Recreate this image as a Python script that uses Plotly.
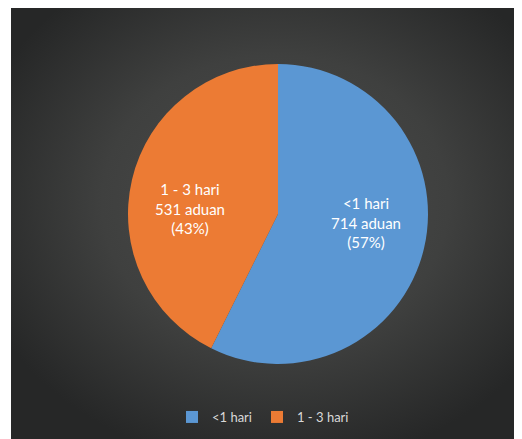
import base64
import math
import plotly.graph_objects as go

categories = ["<1 hari", "1 - 3 hari"]
values = [714, 531]
colors = ["#5b97d3", "#ec7b34"]

W, H = 522, 439

svg = (
    '<svg xmlns="http://www.w3.org/2000/svg" width="508" height="431" viewBox="0 0 508 431" preserveAspectRatio="none">'
    '<defs><radialGradient id="g" cx="0.52" cy="0.45" r="0.62" fx="0.52" fy="0.45">'
    '<stop offset="0" stop-color="#4c4d4c"/>'
    '<stop offset="0.55" stop-color="#3f403f"/>'
    '<stop offset="1" stop-color="#262727"/>'
    '</radialGradient></defs>'
    '<rect width="508" height="431" fill="url(#g)"/></svg>'
)
bg_src = "data:image/svg+xml;base64," + base64.b64encode(svg.encode()).decode()

# figure-space geometry (page is offset by 8px body margin)
cx, cy, r = 270, 206, 150

fig = go.Figure(
    go.Pie(
        labels=categories,
        values=values,
        sort=False,
        direction="clockwise",
        rotation=0,
        marker=dict(colors=colors, line=dict(width=0)),
        textinfo="none",
        hoverinfo="label+value+percent",
        domain=dict(
            x=[(cx - r) / W, (cx + r) / W],
            y=[1 - (cy + r) / H, 1 - (cy - r) / H],
        ),
    )
)

# data labels placed from each slice's mid-angle
total = sum(values)
annotations = []
start = 0.0
for lab, v in zip(categories, values):
    frac = v / total
    mid = (start + frac / 2) * 2 * math.pi
    start += frac
    lx = cx + 0.6 * r * math.sin(mid)
    ly = cy + 1.5 - 0.19 * r * math.cos(mid)
    annotations.append(
        dict(
            x=lx / W,
            y=1 - ly / H,
            xref="paper",
            yref="paper",
            xanchor="center",
            yanchor="middle",
            text=f"{lab}<br>{v} aduan<br>({round(frac * 100)}%)",
            showarrow=False,
            align="center",
            font=dict(family="Lato, 'Open Sans', sans-serif", size=15, color="#ffffff"),
        )
    )

fig.update_layout(
    width=W,
    height=H,
    margin=dict(l=0, r=0, t=0, b=0),
    paper_bgcolor="#ffffff",
    plot_bgcolor="rgba(0,0,0,0)",
    showlegend=True,
    annotations=annotations,
    legend=dict(
        orientation="h",
        x=255 / W,
        xanchor="center",
        y=1 - 409 / H,
        yanchor="middle",
        font=dict(family="Lato, 'Open Sans', sans-serif", size=13, color="#d9d9d9"),
        bgcolor="rgba(0,0,0,0)",
        itemwidth=30,
    ),
    images=[
        dict(
            source=bg_src,
            xref="paper",
            yref="paper",
            x=3 / W,
            y=1,
            sizex=508 / W,
            sizey=431 / H,
            xanchor="left",
            yanchor="top",
            sizing="stretch",
            layer="below",
        )
    ],
)

fig.write_html("out.html")
